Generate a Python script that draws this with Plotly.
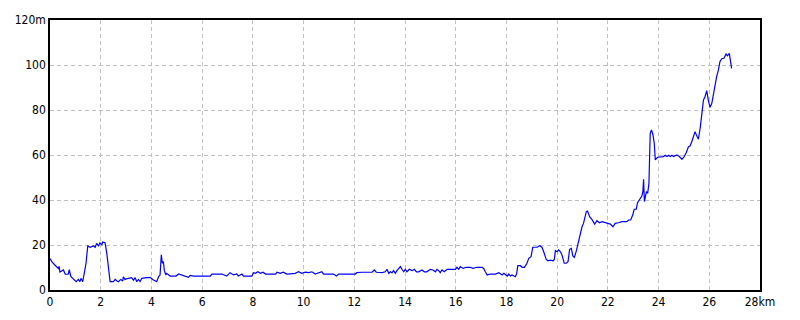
import plotly.graph_objects as go

dist_km = [
    0.0, 0.07, 0.2, 0.33, 0.36, 0.39, 0.53, 0.6, 0.72, 0.76, 0.82, 0.92, 1.03, 1.12, 1.18, 1.22, 1.29,
    1.34, 1.42, 1.49, 1.58, 1.71, 1.78, 1.84, 1.91, 1.97, 2.04, 2.08, 2.17, 2.24, 2.30, 2.37, 2.5,
    2.57, 2.63, 2.7, 2.79, 2.87, 2.89, 2.96, 3.09, 3.22, 3.29, 3.36, 3.42, 3.49, 3.55, 3.62, 3.82,
    3.95, 4.05, 4.14, 4.21, 4.28, 4.34, 4.39, 4.43, 4.47, 4.51, 4.57, 4.6, 4.74, 4.97, 5.07, 5.2,
    5.33, 5.46, 5.53, 5.66, 6.32, 6.38, 6.78, 6.97, 7.1, 7.24, 7.37, 7.43, 7.57, 7.63, 7.96,
    8.03, 8.1, 8.2, 8.3, 8.4, 8.5, 8.9, 8.95, 9.08, 9.2, 9.34, 9.67, 9.8, 9.93, 10.07, 10.2,
    10.33, 10.46, 10.66, 10.72, 10.79, 11.18, 11.3, 11.38, 12.04, 12.1, 12.3, 12.43, 12.5, 12.7,
    12.79, 12.87, 13.1, 13.22, 13.29, 13.36, 13.42, 13.49, 13.55, 13.62, 13.68, 13.75, 13.82,
    13.88, 13.95, 14.01, 14.08, 14.17, 14.28, 14.37, 14.45, 14.54, 14.67, 14.76, 14.86, 15.0,
    15.1, 15.2, 15.26, 15.33, 15.39, 15.46, 15.55, 15.66, 15.99, 16.05, 16.12, 16.18, 16.29,
    16.42, 16.58, 16.68, 16.84, 17.04, 17.1, 17.17, 17.24, 17.37, 17.57, 17.7, 17.83, 17.9,
    17.96, 18.03, 18.09, 18.16, 18.22, 18.29, 18.35, 18.4, 18.45, 18.55, 18.62, 18.71, 18.81,
    18.88, 18.97, 19.04, 19.21, 19.31, 19.4, 19.47, 19.57, 19.64, 19.73, 19.84, 19.89, 19.93,
    20.0, 20.06, 20.13, 20.19, 20.28, 20.36, 20.43, 20.49, 20.56, 20.62, 20.68, 20.76, 20.85,
    20.91, 20.98, 21.04, 21.11, 21.15, 21.2, 21.28, 21.37, 21.48, 21.57, 21.67, 21.77, 21.97,
    22.1, 22.2, 22.29, 22.42, 22.55, 22.75, 22.82, 22.9, 22.98, 23.04, 23.12, 23.17, 23.25,
    23.34, 23.38, 23.41, 23.44, 23.52, 23.57, 23.62, 23.67, 23.72, 23.78, 23.83, 23.87, 23.91,
    23.96, 24.19, 24.26, 24.33, 24.4, 24.46, 24.53, 24.59, 24.72, 24.82, 24.92, 25.01, 25.09,
    25.18, 25.24, 25.31, 25.38, 25.44, 25.51, 25.57, 25.64, 25.7, 25.77, 25.83, 25.9, 25.96,
    26.03, 26.1, 26.16, 26.23, 26.29, 26.36, 26.42, 26.49, 26.58, 26.66, 26.72, 26.79, 26.84,
    26.88,
]

elev_m = [
    14.0, 12.6, 11.0, 9.6, 10.5, 8.0, 8.9, 7.0, 7.0, 9.0, 6.0, 4.7, 3.7, 4.7, 3.7, 5.2, 3.7,
    6.7, 11.9, 19.6, 19.0, 19.6, 19.0, 20.7, 19.6, 21.0, 20.0, 21.3, 21.0, 16.3, 8.9, 3.7, 3.7,
    4.7, 4.1, 3.7, 4.7, 4.0, 5.9, 4.7, 5.2, 5.5, 4.4, 5.5, 3.7, 4.7, 3.7, 5.2, 5.5,
    5.6, 4.7, 4.0, 3.7, 5.9, 6.7, 15.6, 11.9, 12.6, 8.6, 6.7, 7.4, 6.2, 6.2, 7.1, 6.7,
    6.2, 5.6, 6.5, 6.2, 6.2, 7.1, 7.1, 6.2, 7.7, 6.7, 7.1, 6.2, 7.1, 6.2, 6.2,
    7.7, 7.4, 8.1, 7.4, 7.9, 7.1, 7.1, 7.9, 7.4, 7.9, 7.1, 7.4, 8.1, 7.4, 7.9, 7.7,
    8.1, 7.1, 7.7, 8.1, 7.1, 7.1, 6.2, 7.1, 7.1, 7.7, 7.9, 7.9, 8.1, 7.9,
    8.9, 7.9, 7.7, 8.1, 9.2, 7.4, 8.1, 7.7, 8.6, 7.4, 8.6, 9.6, 10.4,
    9.2, 8.1, 9.2, 8.1, 9.2, 8.6, 9.2, 8.1, 8.1, 8.9, 8.1, 8.1, 9.2,
    8.9, 8.1, 9.2, 8.6, 7.7, 8.9, 8.1, 9.2, 9.2, 10.1, 9.2, 10.4, 9.6,
    10.1, 10.1, 9.6, 10.1, 10.1, 9.6, 8.1, 6.7, 7.1, 7.1, 7.7, 6.7, 7.4,
    6.7, 6.2, 7.1, 6.2, 6.7, 6.2, 5.9, 7.1, 10.8, 10.8, 10.1, 10.1, 11.9,
    14.1, 14.8, 19.0, 19.0, 19.7, 19.0, 17.0, 13.6, 13.0, 13.3, 13.0, 13.6, 17.5,
    17.0, 17.8, 17.0, 15.6, 11.9, 11.9, 12.6, 18.1, 18.5, 15.1, 14.5, 17.5, 22.2,
    25.9, 28.1, 29.6, 32.6, 34.8, 35.1, 32.6, 31.4, 29.3, 30.8, 29.9, 30.4, 29.9,
    29.3, 28.1, 29.6, 29.9, 30.4, 30.4, 31.1, 31.1, 33.3, 35.9, 35.9, 38.8, 40.3,
    41.8, 43.7, 49.2, 39.3, 43.7, 43.0, 47.4, 69.6, 71.1, 68.9, 65.2, 57.8, 58.5,
    59.0, 59.3, 59.9, 59.3, 59.9, 59.3, 59.9, 59.3, 60.0, 59.3, 58.1, 59.3, 61.0,
    63.7, 64.0, 65.9, 68.1, 70.4, 68.4, 67.0, 71.9, 78.5, 84.4, 85.9, 88.6, 84.4,
    81.2, 83.0, 87.4, 91.9, 94.8, 97.8, 101.5, 102.8, 103.0, 104.9, 104.1, 105.2, 101.5,
    98.5,
]

x_ticks = [0, 2, 4, 6, 8, 10, 12, 14, 16, 18, 20, 22, 24, 26, 28]
x_labels = ["0", "2", "4", "6", "8", "10", "12", "14", "16", "18", "20", "22", "24", "26", "28km"]
y_ticks = [0, 20, 40, 60, 80, 100, 120]
y_labels = ["0", "20", "40", "60", "80", "100", "120m"]

fig = go.Figure()
fig.add_trace(go.Scatter(
    x=dist_km, y=elev_m, mode="lines",
    line=dict(color="#0000ff", width=1.2),
    hoverinfo="skip", showlegend=False,
))

font = dict(family="Liberation Sans Narrow, DejaVu Sans Condensed, Arial Narrow, sans-serif",
            size=12, color="#000000")

fig.update_layout(
    width=800, height=320,
    margin=dict(l=50, r=40, t=20, b=30),
    paper_bgcolor="white", plot_bgcolor="white",
    font=font,
    showlegend=False,
)
fig.update_xaxes(
    range=[0, 28], tickvals=x_ticks, ticktext=x_labels,
    showgrid=True, gridcolor="#c0c0c0", griddash="4px,3px", gridwidth=1,
    showline=True, linecolor="black", linewidth=1.5, mirror=True,
    ticks="", zeroline=False, tickfont=font,
)
fig.update_yaxes(
    range=[0, 120], tickvals=y_ticks, ticktext=y_labels,
    showgrid=True, gridcolor="#c0c0c0", griddash="4px,3px", gridwidth=1,
    showline=True, linecolor="black", linewidth=1.5, mirror=True,
    ticks="", zeroline=False, tickfont=font,
)

fig.write_html("out.html")
